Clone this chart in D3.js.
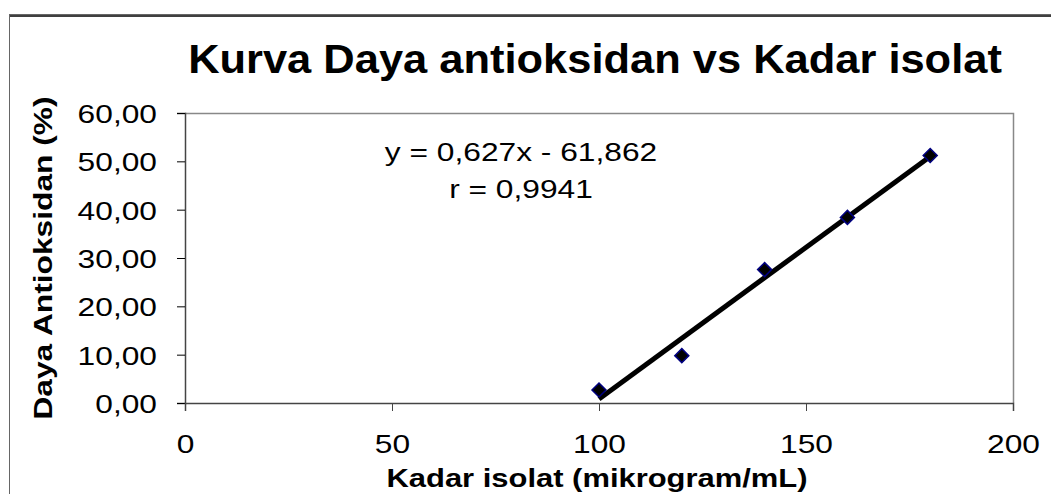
<!DOCTYPE html>
<html lang="en">
<head>
<meta charset="utf-8">
<title>Kurva Daya antioksidan vs Kadar isolat</title>
<script src="https://d3js.org/d3.v7.min.js"></script>
<style>
  body { margin: 0; background: #fff; }
  text { font-family: "Liberation Sans", Arial, sans-serif; fill: #000; }
</style>
</head>
<body>
<div id="chart"></div>
<script>
// data
const kadar = [100, 120, 140, 160, 180];
const daya = [2.7, 9.8, 27.6, 38.4, 51.2];
const xTicks = [0, 50, 100, 150, 200];
const yTicks = [0, 10, 20, 30, 40, 50, 60];
const slope = 0.627, intercept = -61.862;
const eqText = "y = 0,627x - 61,862";
const rText = "r = 0,9941";

const W = 1051, H = 494;
const plotL = 185, plotR = 1013, plotT = 113, plotB = 403;
const SX = 1.22; // text in the original is stretched sideways
const FS = "26px";

const svg = d3.select("#chart").append("svg")
  .attr("width", W).attr("height", H);

// outer chart frame (runs off the window at right/bottom)
svg.append("rect")
  .attr("x", 9.5).attr("y", 14.5)
  .attr("width", W + 20).attr("height", H + 20)
  .attr("fill", "none").attr("stroke", "#666").attr("stroke-width", 1);
svg.append("line")
  .attr("x1", 10).attr("x2", W).attr("y1", 16).attr("y2", 16)
  .attr("stroke", "#000").attr("stroke-width", 1.5);

const x = d3.scaleLinear().domain([0, 200]).range([plotL, plotR]);
const y = d3.scaleLinear().domain([0, 60]).range([plotB, plotT]);

// plot area border top/right
svg.append("path")
  .attr("d", `M${plotL},${plotT + 0.5}H${plotR + 0.5}V${plotB}`)
  .attr("fill", "none").attr("stroke", "#888").attr("stroke-width", 1.5);

// Y axis
const yAxis = svg.append("g")
  .attr("transform", `translate(${plotL},0)`)
  .call(d3.axisLeft(y).tickValues(yTicks).tickSize(8)
    .tickFormat(d => d3.format(".2f")(d).replace(".", ",")));
yAxis.select(".domain").attr("stroke", "#444").attr("stroke-width", 1.5);
yAxis.selectAll(".tick line").attr("stroke", "#000");
yAxis.selectAll("text")
  .attr("x", 0).attr("dy", "0.36em")
  .attr("transform", `translate(-28,0) scale(${SX},1)`)
  .style("font-size", FS).attr("fill", "#000");

// X axis
const xAxis = svg.append("g")
  .attr("transform", `translate(0,${plotB})`)
  .call(d3.axisBottom(x).tickValues(xTicks).tickSize(8));
xAxis.select(".domain").attr("stroke", "#444").attr("stroke-width", 1.5);
xAxis.selectAll(".tick line").attr("stroke", "#444");
xAxis.selectAll("text")
  .attr("y", 0).attr("dy", null)
  .attr("transform", `translate(0,50) scale(${SX},1)`)
  .style("font-size", FS).attr("fill", "#000");

// trend line over the data range
const x0 = d3.min(kadar), x1 = d3.max(kadar);
svg.append("line")
  .attr("x1", x(x0)).attr("y1", y(slope * x0 + intercept))
  .attr("x2", x(x1)).attr("y2", y(slope * x1 + intercept))
  .attr("stroke", "#000").attr("stroke-width", 5);

// markers
svg.selectAll("path.pt")
  .data(kadar.map((k, i) => [k, daya[i]]))
  .join("path")
  .attr("class", "pt")
  .attr("transform", d => `translate(${x(d[0])},${y(d[1])})`)
  .attr("d", "M0,-7L7,0L0,7L-7,0Z")
  .attr("fill", "#000").attr("stroke", "#000080").attr("stroke-width", 1.5);

// title
svg.append("text")
  .attr("transform", "translate(595,73) scale(1.06,1)")
  .attr("text-anchor", "middle")
  .style("font-size", "41px").style("font-weight", "bold")
  .text("Kurva Daya antioksidan vs Kadar isolat");

// equation
svg.append("text")
  .attr("transform", `translate(521,161) scale(${SX},1)`)
  .attr("text-anchor", "middle").style("font-size", FS)
  .text(eqText);
svg.append("text")
  .attr("transform", `translate(521,198) scale(${SX},1)`)
  .attr("text-anchor", "middle").style("font-size", FS)
  .text(rText);

// axis titles
svg.append("text")
  .attr("transform", `translate(597,487) scale(1.19,1)`)
  .attr("text-anchor", "middle")
  .style("font-size", FS).style("font-weight", "bold")
  .text("Kadar isolat (mikrogram/mL)");
svg.append("text")
  .attr("transform", `translate(52,258) rotate(-90) scale(${SX},1)`)
  .attr("text-anchor", "middle")
  .style("font-size", FS).style("font-weight", "bold")
  .text("Daya Antioksidan (%)");
</script>
</body>
</html>
